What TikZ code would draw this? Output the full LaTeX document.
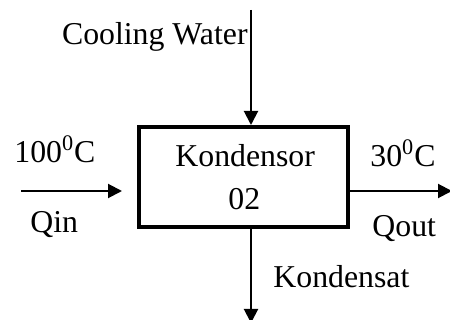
\documentclass[tikz,border=0pt]{standalone}
\usepackage{fontspec}
\setmainfont{Liberation Serif}
\usetikzlibrary{arrows.meta,positioning,calc}
\definecolor{ink}{HTML}{000000}
\tikzset{
  unitbox/.style={draw=ink, line width=2pt, fill=white, minimum width=104.5pt,
                  minimum height=50pt, inner sep=0pt},
  flow/.style={-{Triangle[length=7pt,width=7pt]}, line width=1pt, color=ink},
  lbl/.style={inner sep=0pt, anchor=base west, text=ink,
              font=\fontsize{15.9}{19}\selectfont}}
\begin{document}
\begin{tikzpicture}[x=0.5pt, y=-0.5pt]
    \useasboundingbox[fill=white] (0,0) rectangle (450,320);
    \node[unitbox] (kond) at (243.5,177) {};
    \coordinate (cwin) at (251,10);
    \coordinate (qin) at (21,191);
    \coordinate (qout) at (452,191);
    \coordinate (kout) at (251,323);
    \node[lbl, anchor=base east] (cwlbl) at (248,45) {Cooling Water};
    \node[lbl] (tin) at (14,163) {100\textsuperscript{0}C};
    \node[lbl] (qinlbl) at (30,233) {Qin};
    \node[lbl] (name) at (175,167) {Kondensor};
    \node[lbl] (num) at (228,210) {02};
    \node[lbl] (tout) at (370,167) {30\textsuperscript{0}C};
    \node[lbl] (qoutlbl) at (372,237) {Qout};
    \node[lbl] (kslbl) at (273,288) {Kondensat};
    \draw[flow] (cwin) -- (cwin |- kond.north);
    \draw[flow, shorten >=7.5pt] (qin) -- (qin -| kond.west);
    \draw[flow] (qout -| kond.east) -- (qout);
    \draw[flow] (kout |- kond.south) -- (kout);
  \end{tikzpicture}
\end{document}
